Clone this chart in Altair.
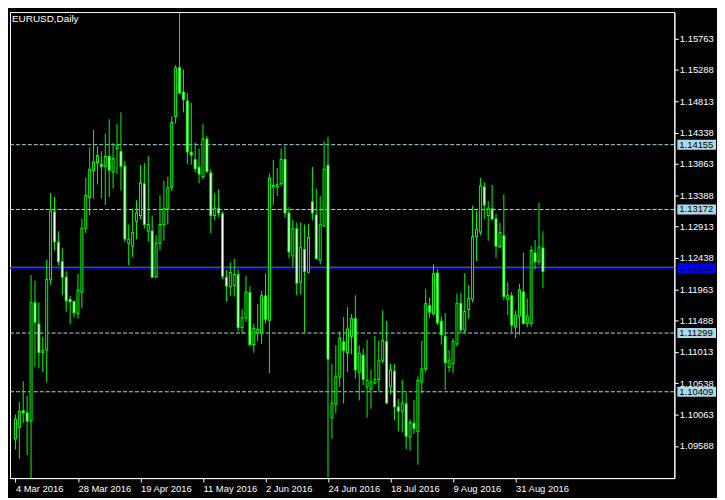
import altair as alt
import pandas as pd

# ---- data (EURUSD daily, one entry per bar) ----
opens = [1.09696, 1.09869, 1.10120, 1.10090, 1.09966, 1.11760, 1.11435, 1.11006, 1.11045, 1.12108,
         1.13134, 1.12676, 1.12380, 1.12144, 1.11808, 1.11779, 1.11591, 1.11916, 1.12891, 1.13355,
         1.13763, 1.13881, 1.13857, 1.13828, 1.13976, 1.13739, 1.14094, 1.14050, 1.13828, 1.12661,
         1.12617, 1.12995, 1.13083, 1.13562, 1.12847, 1.12847, 1.12153, 1.12661, 1.12946, 1.13193,
         1.13503, 1.14581, 1.15320, 1.14951, 1.14818, 1.14039, 1.13931, 1.13813, 1.13674, 1.14242,
         1.13725, 1.13083, 1.13193, 1.13104, 1.12144, 1.12001, 1.12020, 1.12185, 1.11384, 1.11532,
         1.11912, 1.11124, 1.11296, 1.11296, 1.11863, 1.11494, 1.13512, 1.13512, 1.13562, 1.13931,
         1.13119, 1.12469, 1.12882, 1.12070, 1.12566, 1.12222, 1.13290, 1.13089, 1.12404, 1.12921,
         1.13843, 1.10016, 1.10223, 1.10634, 1.11166, 1.11000, 1.11247, 1.11517, 1.10705, 1.10962,
         1.10483, 1.10449, 1.10542, 1.10593, 1.10878, 1.11169, 1.10483, 1.10720, 1.10179, 1.10114,
         1.10228, 1.09721, 1.09932, 1.09804, 1.10557, 1.10755, 1.11715, 1.11591, 1.12207, 1.11479,
         1.11247, 1.10779, 1.10838, 1.11133, 1.11749, 1.11346, 1.11656, 1.11813, 1.12758, 1.12832,
         1.13512, 1.13083, 1.13182, 1.13030, 1.12611, 1.12773, 1.11813, 1.11863, 1.11395, 1.11557,
         1.11922, 1.11444, 1.11444, 1.12513, 1.12380, 1.12587]
highs = [1.10065, 1.10253, 1.10568, 1.10346, 1.12178, 1.12094, 1.11764, 1.11243, 1.12414, 1.13423,
         1.13360, 1.12843, 1.12591, 1.12237, 1.11863, 1.11794, 1.12193, 1.13035, 1.13655, 1.14113,
         1.14379, 1.14128, 1.14054, 1.14320, 1.14541, 1.14182, 1.14468, 1.14645, 1.13906, 1.12946,
         1.13172, 1.13315, 1.13847, 1.13877, 1.13980, 1.13079, 1.12783, 1.13389, 1.13611, 1.13670,
         1.14586, 1.15358, 1.16156, 1.15295, 1.14940, 1.14793, 1.14187, 1.14098, 1.14472, 1.14290,
         1.13784, 1.13414, 1.13478, 1.13142, 1.12256, 1.12370, 1.12429, 1.12266, 1.11661, 1.12167,
         1.12011, 1.11444, 1.11739, 1.11937, 1.12193, 1.13719, 1.13921, 1.13803, 1.14098, 1.14143,
         1.13207, 1.13015, 1.12975, 1.12975, 1.12946, 1.12956, 1.13818, 1.13488, 1.13374, 1.14202,
         1.14276, 1.10829, 1.11114, 1.11321, 1.11543, 1.11690, 1.11591, 1.11872, 1.11114, 1.11065,
         1.11198, 1.10745, 1.11257, 1.11188, 1.11641, 1.11483, 1.10829, 1.10829, 1.10302, 1.10593,
         1.10395, 1.09991, 1.10287, 1.10641, 1.11184, 1.11971, 1.11838, 1.12340, 1.12266, 1.11553,
         1.11602, 1.11040, 1.11222, 1.11897, 1.11912, 1.12207, 1.12030, 1.13227, 1.13153, 1.13651,
         1.13586, 1.13300, 1.13547, 1.13104, 1.12971, 1.13400, 1.12070, 1.11922, 1.11641, 1.12045,
         1.12518, 1.11823, 1.12617, 1.12710, 1.13275, 1.12843]
lows = [1.09533, 1.09390, 1.09932, 1.09449, 1.08220, 1.10789, 1.10764, 1.10705, 1.10557, 1.12034,
        1.12552, 1.12330, 1.11872, 1.11621, 1.11429, 1.11532, 1.11517, 1.11676, 1.12817, 1.13083,
        1.13340, 1.13552, 1.13340, 1.13241, 1.13364, 1.13488, 1.13710, 1.13463, 1.12676, 1.12330,
        1.12454, 1.12724, 1.13020, 1.12887, 1.12685, 1.12133, 1.12133, 1.12552, 1.12699, 1.12946,
        1.13453, 1.14472, 1.14926, 1.14645, 1.13857, 1.13852, 1.13733, 1.13571, 1.13636, 1.13725,
        1.12817, 1.13010, 1.13060, 1.12119, 1.11779, 1.11863, 1.11853, 1.11321, 1.11291, 1.11469,
        1.11099, 1.11000, 1.11173, 1.11133, 1.11444, 1.10690, 1.13241, 1.13379, 1.13527, 1.13045,
        1.12433, 1.12306, 1.11872, 1.11887, 1.11306, 1.12207, 1.13010, 1.12414, 1.12340, 1.12912,
        1.09110, 1.09696, 1.10080, 1.10483, 1.10228, 1.10705, 1.10977, 1.10607, 1.10276, 1.10508,
        1.10016, 1.10149, 1.10519, 1.10420, 1.10844, 1.10228, 1.10375, 1.09981, 1.09810, 1.09795,
        1.09538, 1.09514, 1.09770, 1.09301, 1.10386, 1.10705, 1.11532, 1.11565, 1.11420, 1.11124,
        1.10435, 1.10705, 1.10690, 1.11099, 1.11296, 1.11296, 1.11517, 1.11764, 1.12389, 1.12783,
        1.13030, 1.12699, 1.13010, 1.12439, 1.12587, 1.11798, 1.11568, 1.11311, 1.11222, 1.11272,
        1.11429, 1.11384, 1.11395, 1.12266, 1.12330, 1.11975]
closes = [1.09991, 1.10114, 1.10090, 1.09966, 1.11760, 1.11464, 1.11006, 1.11036, 1.12114, 1.13148,
          1.12685, 1.12380, 1.12144, 1.11789, 1.11774, 1.11606, 1.11952, 1.12887, 1.13389, 1.13784,
          1.13891, 1.13990, 1.13828, 1.13976, 1.13769, 1.13946, 1.14147, 1.13828, 1.12724, 1.12720,
          1.12823, 1.13119, 1.13577, 1.12946, 1.12946, 1.12144, 1.12661, 1.12946, 1.13182, 1.13503,
          1.14493, 1.15320, 1.14940, 1.14841, 1.14044, 1.13999, 1.13792, 1.13710, 1.14242, 1.13748,
          1.13083, 1.13193, 1.13119, 1.12159, 1.12011, 1.12218, 1.12185, 1.11384, 1.11532, 1.11922,
          1.11124, 1.11373, 1.11358, 1.11863, 1.11509, 1.13651, 1.13537, 1.13547, 1.13931, 1.13119,
          1.12528, 1.12882, 1.12055, 1.12602, 1.12232, 1.12749, 1.13119, 1.12429, 1.12942, 1.13784,
          1.10903, 1.10238, 1.10634, 1.11225, 1.11036, 1.11361, 1.11517, 1.10740, 1.10991, 1.10597,
          1.10582, 1.10557, 1.10593, 1.10878, 1.11184, 1.10238, 1.10740, 1.10179, 1.10114, 1.10238,
          1.09736, 1.09943, 1.09854, 1.10582, 1.10755, 1.11749, 1.11616, 1.12200, 1.11458, 1.11277,
          1.10853, 1.10878, 1.11173, 1.11749, 1.11346, 1.11627, 1.11823, 1.12758, 1.12872, 1.13527,
          1.13241, 1.13193, 1.13030, 1.12617, 1.12823, 1.11853, 1.11872, 1.11420, 1.11568, 1.11952,
          1.11444, 1.11557, 1.12552, 1.12380, 1.12602, 1.12232]

tick_bars = [0, 16, 32, 48, 64, 80, 96, 112, 128]
tick_labels = ["4 Mar 2016", "28 Mar 2016", "19 Apr 2016", "11 May 2016", "2 Jun 2016",
               "24 Jun 2016", "18 Jul 2016", "9 Aug 2016", "31 Aug 2016"]
price_ticks = [1.09588, 1.10063, 1.10538, 1.11013, 1.11488, 1.11963, 1.12438,
               1.12913, 1.13388, 1.13863, 1.14338, 1.14813, 1.15288, 1.15763]
level_prices = [1.14155, 1.13172, 1.11299, 1.10409]
bid_price = [1.12282]
title_text = ["EURUSD,Daily"]

# ---- layout constants ----
W, H = 670, 470
FONT = "Liberation Sans"
GREEN = "#00ff00"
LIGHTBLUE = "#add8e6"

df = pd.DataFrame({"bar": list(range(len(opens))), "open": opens, "high": highs,
                   "low": lows, "close": closes})
df["bull"] = df["close"] > df["open"]
df["body_top"] = df[["open", "close"]].max(axis=1)
df["body_bot"] = df[["open", "close"]].min(axis=1)

label_expr = "".join(f"datum.value == {b} ? '{l}' : " for b, l in zip(tick_bars, tick_labels)) + "''"

xscale = alt.Scale(domain=[-0.125, 167.375], nice=False, zero=False)
yscale = alt.Scale(domain=[1.0910, 1.16166], nice=False, zero=False)

x_axis = alt.Axis(values=tick_bars, labelExpr=label_expr, orient="bottom", title=None,
                  grid=False, tickSize=4, labelPadding=2, labelAlign="left",
                  labelBaseline="top", labelOverlap=False, labelFlush=False,
                  domainColor="white", tickColor="white", labelColor="white",
                  labelFont=FONT, labelFontSize=9.5)
y_axis = alt.Axis(values=price_ticks, format=".5f", orient="right", title=None,
                  grid=False, tickSize=4, labelPadding=1, labelAlign="left",
                  labelBaseline="middle", labelOverlap=False, labelFlush=False,
                  domainColor="white", tickColor="white", labelColor="white",
                  labelFont=FONT, labelFontSize=9.5)


def Y(field):
    return alt.Y(field, scale=yscale, axis=y_axis)


def X(field):
    return alt.X(field, scale=xscale, axis=x_axis)


base = alt.Chart(df)

wicks = base.mark_rule(color=GREEN, strokeWidth=1, clip=True).encode(
    x=X("bar:Q"), y=Y("low:Q"), y2="high:Q",
)

# body outline: a 3px green block, grown half a pixel at each end
body_outline = base.mark_bar(size=3, color=GREEN, clip=True, yOffset=0.5, y2Offset=-0.5).encode(
    x=X("bar:Q"), y=Y("body_bot:Q"), y2="body_top:Q",
)
# body interior: 1px column, black for rising bars and white for falling ones
body_fill = base.mark_bar(size=1, clip=True, yOffset=-0.5, y2Offset=0.5).encode(
    x=X("bar:Q"), y=Y("body_bot:Q"), y2="body_top:Q",
    color=alt.condition("datum.bull", alt.value("#000000"), alt.value("#ffffff")),
)

levels_df = pd.DataFrame({"price": level_prices})
bid_df = pd.DataFrame({"price": bid_price})

level_lines = alt.Chart(levels_df).mark_rule(color=LIGHTBLUE, strokeDash=[4, 2], strokeWidth=1).encode(
    y=Y("price:Q")
)
ask_line = alt.Chart(bid_df).mark_rule(color="#8c8c8c", strokeWidth=1, yOffset=-1).encode(
    y=Y("price:Q")
)
bid_line = alt.Chart(bid_df).mark_rule(color="#0000ff", strokeWidth=1).encode(
    y=Y("price:Q")
)

level_boxes = alt.Chart(levels_df).mark_rect(color=LIGHTBLUE, yOffset=-5, y2Offset=5).encode(
    y=Y("price:Q"), y2="price:Q",
    x=alt.value(W + 3), x2=alt.value(W + 42),
)
level_text = alt.Chart(levels_df).mark_text(align="left", baseline="middle", font=FONT,
                                            fontSize=9.5, color="#000000").encode(
    y=Y("price:Q"), x=alt.value(W + 5),
    text=alt.Text("price:Q", format=".5f"),
)
bid_box = alt.Chart(bid_df).mark_rect(color="#0000ff", yOffset=-5, y2Offset=5).encode(
    y=Y("price:Q"), y2="price:Q",
    x=alt.value(W + 3), x2=alt.value(W + 42),
)
bid_text = alt.Chart(bid_df).mark_text(align="left", baseline="middle", font=FONT,
                                       fontSize=9.5, color="#000050").encode(
    y=Y("price:Q"), x=alt.value(W + 5),
    text=alt.Text("price:Q", format=".5f"),
)

title = alt.Chart(pd.DataFrame({"t": title_text})).mark_text(
    align="left", baseline="middle", font=FONT, fontSize=10, color="white"
).encode(x=alt.value(2), y=alt.value(7), text="t:N")

chart = alt.layer(
    level_lines, ask_line, bid_line, wicks, body_outline, body_fill,
    level_boxes, level_text, bid_box, bid_text, title
).properties(
    width=W, height=H,
    background="#000000",
    padding={"left": 2, "top": 2, "right": 43, "bottom": 18},
    autosize=alt.AutoSizeParams(type="none"),
).configure_view(stroke="white", strokeWidth=1).configure_axis(labelOverlap=False)

chart.save("out.html", embed_options={"renderer": "svg", "actions": False})
